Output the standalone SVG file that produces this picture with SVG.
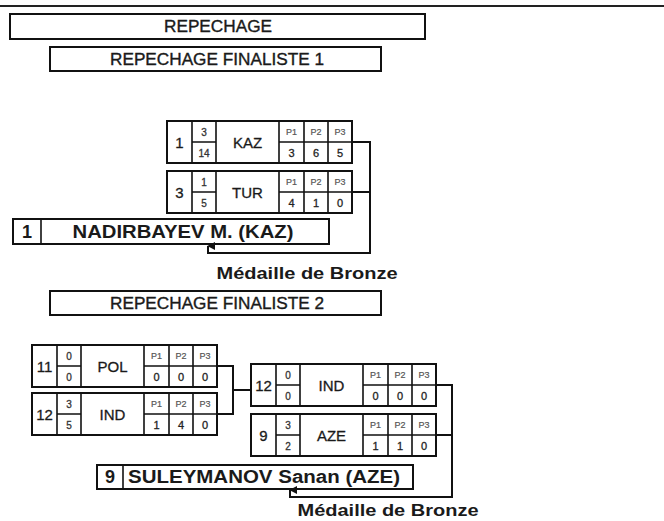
<svg xmlns="http://www.w3.org/2000/svg" width="664" height="521" viewBox="0 0 664 521">
<style>
  text { font-family: "Liberation Sans", Arial, sans-serif; fill: #1a1a1a; text-anchor: middle; }
  .box { fill: #fff; stroke: #111; stroke-width: 2; }
  .in { stroke: #111; stroke-width: 1.6; fill: none; }
  .hdr { font-size: 16px; stroke: #1a1a1a; stroke-width: 0.35; }
  .num { font-size: 15px; stroke: #1a1a1a; stroke-width: 0.3; }
  .sc { font-size: 10px; fill: #333; stroke: #333; stroke-width: 0.3; }
  .cty { font-size: 15px; stroke: #1a1a1a; stroke-width: 0.3; }
  .pl { font-size: 9px; fill: #555; stroke: #555; stroke-width: 0.2; }
  .pv { font-size: 11px; fill: #222; stroke: #222; stroke-width: 0.3; }
  .name { font-size: 18px; font-weight: bold; }
  .med { font-size: 17px; font-weight: bold; }
  .conn { stroke: #111; stroke-width: 2; fill: none; }
</style>
<defs>
  <marker id="arr" viewBox="0 0 10 10" refX="5" refY="1" markerWidth="8" markerHeight="8" orient="auto-start-reverse" markerUnits="userSpaceOnUse">
    <path d="M0,10 L5,0 L10,10 Z" fill="#111"/>
  </marker>
  <g id="grid">
    <rect class="box" x="0" y="0" width="185" height="42"/>
    <path class="in" d="M25,0V42 M49,0V42 M112,0V42 M137,0V42 M161,0V42 M25,21H49 M112,21H185"/>
  </g>
</defs>
<rect width="664" height="521" fill="#fff"/>
<line x1="0" y1="6" x2="664" y2="6" stroke="#222" stroke-width="2"/>

<g id="hdr-repechage">
  <rect class="box" x="10" y="14" width="415" height="25"/>
  <text class="hdr" x="218" y="32" textLength="108" lengthAdjust="spacingAndGlyphs">REPECHAGE</text>
</g>
<g id="hdr-final1">
  <rect class="box" x="50" y="47" width="331" height="24"/>
  <text class="hdr" x="217" y="65" textLength="214" lengthAdjust="spacingAndGlyphs">REPECHAGE FINALISTE 1</text>
</g>

<g id="m-kaz" transform="translate(167,121)">
  <use href="#grid"/>
  <text class="num" x="12.5" y="26.5">1</text>
  <text class="sc" x="37" y="14.5">3</text>
  <text class="sc" x="37" y="35.5">14</text>
  <text class="cty" x="80.5" y="26.5">KAZ</text>
  <text class="pl" x="124.5" y="14">P1</text>
  <text class="pl" x="149" y="14">P2</text>
  <text class="pl" x="173" y="14">P3</text>
  <text class="pv" x="124.5" y="36">3</text>
  <text class="pv" x="149" y="36">6</text>
  <text class="pv" x="173" y="36">5</text>
</g>
<g id="m-tur" transform="translate(167,171)">
  <use href="#grid"/>
  <text class="num" x="12.5" y="26.5">3</text>
  <text class="sc" x="37" y="14.5">1</text>
  <text class="sc" x="37" y="35.5">5</text>
  <text class="cty" x="80.5" y="26.5">TUR</text>
  <text class="pl" x="124.5" y="14">P1</text>
  <text class="pl" x="149" y="14">P2</text>
  <text class="pl" x="173" y="14">P3</text>
  <text class="pv" x="124.5" y="36">4</text>
  <text class="pv" x="149" y="36">1</text>
  <text class="pv" x="173" y="36">0</text>
</g>

<g id="w-nadirbayev">
  <rect class="box" x="13" y="219" width="316" height="25"/>
  <line class="in" x1="41" y1="219" x2="41" y2="244"/>
  <text class="name" x="27" y="238">1</text>
  <text class="name" x="183" y="238" textLength="221" lengthAdjust="spacingAndGlyphs">NADIRBAYEV M. (KAZ)</text>
</g>
<text id="med1" class="med" x="307" y="279" textLength="181" lengthAdjust="spacingAndGlyphs">Médaille de Bronze</text>

<g id="hdr-final2">
  <rect class="box" x="50" y="291" width="331" height="24"/>
  <text class="hdr" x="217" y="309" textLength="214" lengthAdjust="spacingAndGlyphs">REPECHAGE FINALISTE 2</text>
</g>

<g id="m-pol" transform="translate(32,345)">
  <use href="#grid"/>
  <text class="num" x="12.5" y="26.5">11</text>
  <text class="sc" x="37" y="14.5">0</text>
  <text class="sc" x="37" y="35.5">0</text>
  <text class="cty" x="80.5" y="26.5">POL</text>
  <text class="pl" x="124.5" y="14">P1</text>
  <text class="pl" x="149" y="14">P2</text>
  <text class="pl" x="173" y="14">P3</text>
  <text class="pv" x="124.5" y="36">0</text>
  <text class="pv" x="149" y="36">0</text>
  <text class="pv" x="173" y="36">0</text>
</g>
<g id="m-ind1" transform="translate(32,393)">
  <use href="#grid"/>
  <text class="num" x="12.5" y="26.5">12</text>
  <text class="sc" x="37" y="14.5">3</text>
  <text class="sc" x="37" y="35.5">5</text>
  <text class="cty" x="80.5" y="26.5">IND</text>
  <text class="pl" x="124.5" y="14">P1</text>
  <text class="pl" x="149" y="14">P2</text>
  <text class="pl" x="173" y="14">P3</text>
  <text class="pv" x="124.5" y="36">1</text>
  <text class="pv" x="149" y="36">4</text>
  <text class="pv" x="173" y="36">0</text>
</g>
<g id="m-ind2" transform="translate(251,364)">
  <use href="#grid"/>
  <text class="num" x="12.5" y="26.5">12</text>
  <text class="sc" x="37" y="14.5">0</text>
  <text class="sc" x="37" y="35.5">0</text>
  <text class="cty" x="80.5" y="26.5">IND</text>
  <text class="pl" x="124.5" y="14">P1</text>
  <text class="pl" x="149" y="14">P2</text>
  <text class="pl" x="173" y="14">P3</text>
  <text class="pv" x="124.5" y="36">0</text>
  <text class="pv" x="149" y="36">0</text>
  <text class="pv" x="173" y="36">0</text>
</g>
<g id="m-aze" transform="translate(251,414)">
  <use href="#grid"/>
  <text class="num" x="12.5" y="26.5">9</text>
  <text class="sc" x="37" y="14.5">3</text>
  <text class="sc" x="37" y="35.5">2</text>
  <text class="cty" x="80.5" y="26.5">AZE</text>
  <text class="pl" x="124.5" y="14">P1</text>
  <text class="pl" x="149" y="14">P2</text>
  <text class="pl" x="173" y="14">P3</text>
  <text class="pv" x="124.5" y="36">1</text>
  <text class="pv" x="149" y="36">1</text>
  <text class="pv" x="173" y="36">0</text>
</g>

<g id="w-suleymanov">
  <rect class="box" x="97" y="465" width="316" height="24"/>
  <line class="in" x1="123" y1="465" x2="123" y2="489"/>
  <text class="name" x="110" y="483">9</text>
  <text class="name" x="264" y="483" textLength="272" lengthAdjust="spacingAndGlyphs">SULEYMANOV Sanan (AZE)</text>
</g>
<text id="med2" class="med" x="388" y="516" textLength="181" lengthAdjust="spacingAndGlyphs">Médaille de Bronze</text>

<g id="connectors">
  <path class="conn" d="M352,142 H370 V253 H208 V246" marker-end="url(#arr)"/>
  <path class="conn" d="M352,192 H370"/>
  <path class="conn" d="M217,366 H233 V414 H217"/>
  <path class="conn" d="M233,390 H251"/>
  <path class="conn" d="M436,385 H452 V497 H290 V490" marker-end="url(#arr)"/>
  <path class="conn" d="M436,435 H452"/>
</g>
</svg>
